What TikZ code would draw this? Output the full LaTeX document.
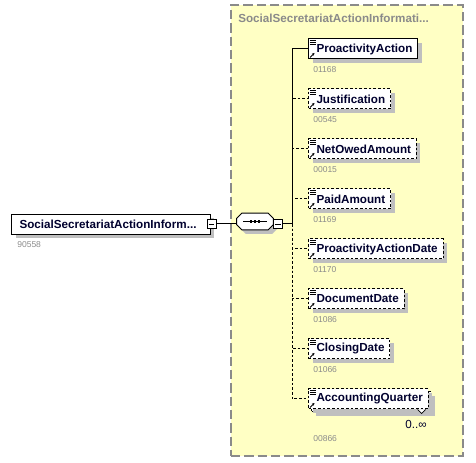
\documentclass[tikz,border=0pt]{standalone}
\usepackage{fontspec}
\setmainfont{Liberation Sans}
\usetikzlibrary{arrows.meta,shadows}
\definecolor{elemtext}{HTML}{00002E}
\definecolor{idgray}{HTML}{8C8C8C}
\definecolor{groupfill}{HTML}{FFFFC4}
\definecolor{groupline}{HTML}{8A8A8A}

\begin{document}
\begin{tikzpicture}[
x=0.75pt,
y=-0.75pt,
every node/.style={font=\fontsize{8.75}{10}\selectfont},
elembox/.style={rectangle,draw,fill=white,anchor=west,line width=0.75pt,minimum height=15pt,inner ysep=0pt,inner xsep=4pt,text=elemtext,font=\fontsize{8.75}{10}\selectfont\bfseries,drop shadow={shadow xshift=3pt,shadow yshift=-3pt,fill=black!25,opacity=1}},
elem/.style={elembox,path picture={
  \draw[solid,line width=0.6pt] ([shift={(1,1)}]path picture bounding box.north west) -- ++(6,0) ++(-6,2) -- ++(6,0) ++(-6,2) -- ++(6,0);
  \draw[solid,line width=0.6pt,-{Stealth[length=2pt,width=2pt]}] ([shift={(1.5,-1.5)}]path picture bounding box.south west) -- ++(4.5,-4.5);}},
optelem/.style={elem,dash pattern=on 2pt off 1.5pt},
optback/.style={elembox,dash pattern=on 2pt off 1.5pt},
rootbox/.style={elembox,inner xsep=6pt},
idnum/.style={anchor=west,text=idgray,font=\fontsize{6.4}{7}\selectfont,inner sep=0pt},
minusbox/.style={rectangle,draw,fill=white,minimum size=6.9pt,inner sep=0pt,line width=0.6pt,path picture={
  \draw[line width=0.6pt] ([xshift=1.3pt]path picture bounding box.west) -- ([xshift=-1.3pt]path picture bounding box.east);}},
seqbox/.style={rectangle,minimum width=27pt,minimum height=12pt,inner sep=0pt},
octpath/.style={insert path={([shift={(5,0)}]seq.north west) -- ([shift={(-5,0)}]seq.north east) -- ([shift={(0,5)}]seq.north east) -- ([shift={(0,-5)}]seq.south east) -- ([shift={(-5,0)}]seq.south east) -- ([shift={(5,0)}]seq.south west) -- ([shift={(0,-5)}]seq.south west) -- ([shift={(0,5)}]seq.north west) -- cycle}},
groupbox/.style={rectangle,draw=groupline,fill=groupfill,line width=0.9pt,dash pattern=on 7pt off 3pt,inner sep=0pt},
grptitle/.style={anchor=west,text=groupline,font=\fontsize{8.75}{10}\selectfont\bfseries,inner sep=0pt},
lnk/.style={line width=0.75pt},
optlnk/.style={line width=0.75pt,dash pattern=on 2pt off 1.5pt},
mult/.style={anchor=east,inner sep=0pt,text=elemtext}
]
\useasboundingbox (0,0) rectangle (476,463);
\node[groupbox,minimum width=174pt,minimum height=338.25pt] (group) at (347,230.5) {};
\node[grptitle] (grouptitle) at (238,18) {SocialSecretariatActionInformati...};

\node[rootbox] (root) at (11,224.5) {SocialSecretariatActionInform...\hspace*{4.5pt}};
\node[idnum] (rootid) at (17,245) {90558};
\node[minusbox] (rootminus) at (211.5,224) {};

\node[seqbox] (seq) at (255,221.5) {};
\fill[black!25,transform canvas={shift={(3pt,-3pt)}},octpath];
\draw[fill=white,line width=0.75pt,octpath];
\draw[line width=0.6pt] ([xshift=-9pt]seq.center) -- ([xshift=9pt]seq.center);
\foreach \d in {-3,0,3}
  \fill[black] ([xshift=\d pt]seq.center) +(-0.75pt,-0.8pt) rectangle +(0.75pt,0.8pt);
\node[minusbox] (seqminus) at (278,224) {};
\coordinate (bus) at (292,224);

\node[elem] (pa) at (308,49) {\hspace*{2pt}ProactivityAction};
\node[idnum] (paid) at (313,70) {01168};
\node[optelem] (just) at (308,99) {\hspace*{2pt}Justification};
\node[idnum] (justid) at (313,120) {00545};
\node[optelem] (noa) at (308,149) {\hspace*{2pt}NetOwedAmount};
\node[idnum] (noaid) at (313,170) {00015};
\node[optelem] (pam) at (308,199) {\hspace*{2pt}PaidAmount};
\node[idnum] (pamid) at (313,220) {01169};
\node[optelem] (pad) at (308,249) {\hspace*{2pt}ProactivityActionDate};
\node[idnum] (padid) at (313,270) {01170};
\node[optelem] (dd) at (308,299) {\hspace*{2pt}DocumentDate};
\node[idnum] (ddid) at (313,320) {01086};
\node[optelem] (cd) at (308,349) {\hspace*{2pt}ClosingDate};
\node[idnum] (cdid) at (313,370) {01066};
\node[optback] (aqback) at (311,402) {\hspace*{2pt}\phantom{AccountingQuarter}};
\node[optelem] (aq) at (308,399) {\hspace*{2pt}AccountingQuarter};
\node[mult] (aqmult) at (427,424) {0..∞};
\node[idnum] (aqid) at (313,439) {00866};

\draw[fill=white,line width=0.6pt] ([shift={(-14,-3)}]aqback.south east) -- ++(4,4) -- ++(4,-4);

\draw[lnk] (rootminus.east) -- (rootminus.east -| seq.west);
\draw[lnk] (seqminus.east) -- (bus);
\draw[optlnk] (bus) |- (just.west);
\draw[optlnk] (bus) |- (noa.west);
\draw[optlnk] (bus) |- (pam.west);
\draw[optlnk] (bus) |- (pad.west);
\draw[optlnk] (bus) |- (dd.west);
\draw[optlnk] (bus) |- (cd.west);
\draw[optlnk] (bus) |- (aq.west);
\draw[lnk] (bus) |- (pa.west);
\end{tikzpicture}
\end{document}
